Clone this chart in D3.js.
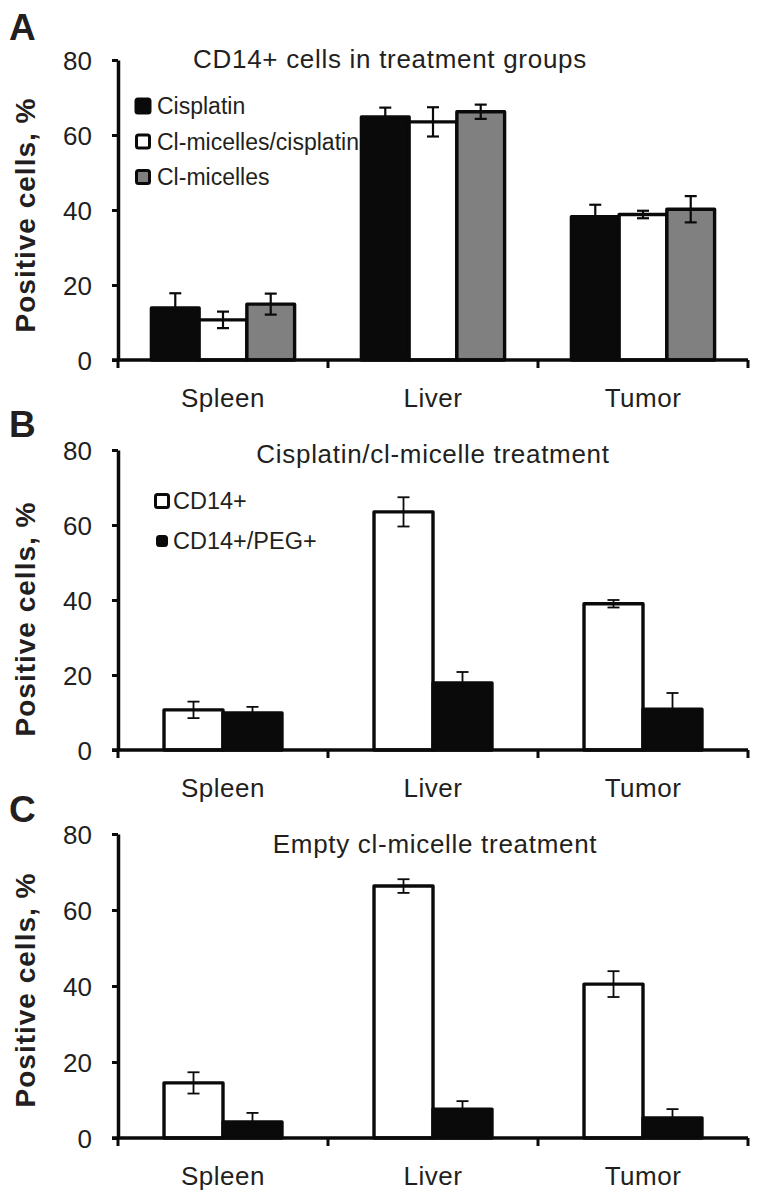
<!DOCTYPE html>
<html><head><meta charset="utf-8">
<script src="https://cdn.jsdelivr.net/npm/d3@7"></script>
<style>
body{margin:0;background:#fff}
text{font-family:"Liberation Sans",Arial,Helvetica,sans-serif;fill:#231f20}
</style>
</head><body>
<svg id="chart" width="760" height="1201"></svg>
<script>
// ---------- data ----------
const categories = ["Spleen", "Liver", "Tumor"];
const yTickValues = [0, 20, 40, 60, 80];
const panelLetters = ["A", "B", "C"];
const panelTitles = ["CD14+ cells in treatment groups", "Cisplatin/cl-micelle treatment", "Empty cl-micelle treatment"];
const yAxisTitle = "Positive cells, %";

// Panel A
const seriesA = ["Cisplatin", "Cl-micelles/cisplatin", "Cl-micelles"];
const cisplatinA = [13.9, 64.8, 38.2];
const cisplatinErrA = [3.9, 2.5, 3.2];
const clMicCisA = [10.7, 63.5, 38.8];
const clMicCisErrA = [2.2, 3.9, 1.0];
const clMicA = [14.9, 66.2, 40.2];
const clMicErrA = [2.8, 1.9, 3.5];

// Panel B (cisplatin/cl-micelle)
const seriesBC = ["CD14+", "CD14+/PEG+"];
const cd14B = [10.7, 63.5, 39.0];
const cd14ErrB = [2.2, 3.9, 1.0];
const pegB = [9.9, 17.9, 10.9];
const pegErrB = [1.6, 2.9, 4.3];

// Panel C (empty cl-micelle)
const cd14C = [14.5, 66.3, 40.5];
const cd14ErrC = [2.8, 1.8, 3.4];
const pegC = [4.2, 7.6, 5.3];
const pegErrC = [2.4, 2.1, 2.3];

// ---------- layout ----------
const svg = d3.select("#chart");
const INK = "#0a0a0a";
const axisLeftX = 118, axisRightX = 748;

const panels = [
  { letter: panelLetters[0], title: panelTitles[0], top: 60, bottom: 360, titleY: 68, titleX: 390, letterY: 40, yTitleC: 215,
    series: seriesA, fills: [INK, "#ffffff", "#808080"],
    values: [cisplatinA, clMicCisA, clMicA], errs: [cisplatinErrA, clMicCisErrA, clMicErrA],
    padOuter: 0.7, errW: 2.2,
    legend: { x: 135, y0: 98, step: 35.5, sizes: [17, 16, 16], textX: 157, fs: 23 } },
  { letter: panelLetters[1], title: panelTitles[1], top: 450, bottom: 750, titleY: 463, titleX: 433, letterY: 437, yTitleC: 619,
    series: seriesBC, fills: ["#ffffff", INK],
    values: [cd14B, pegB], errs: [cd14ErrB, pegErrB],
    padOuter: 0.78, errW: 1.8,
    legend: { x: 154, y0: 493, step: 40, sizes: [16, 12], textX: 173, fs: 23.5 } },
  { letter: panelLetters[2], title: panelTitles[2], top: 834, bottom: 1138, titleY: 853, titleX: 435, letterY: 822, yTitleC: 990,
    series: seriesBC, fills: ["#ffffff", INK],
    values: [cd14C, pegC], errs: [cd14ErrC, pegErrC],
    padOuter: 0.78, errW: 1.8, legend: null }
];

panels.forEach(p => {
  const g = svg.append("g");
  const x = d3.scaleBand().domain(categories).range([axisLeftX, axisRightX]).paddingInner(0).paddingOuter(0);
  const xs = d3.scaleBand().domain(p.series).range([0, x.bandwidth()]).paddingInner(0).paddingOuter(p.padOuter);
  const y = d3.scaleLinear().domain([0, 80]).range([p.bottom, p.top]);

  // panel letter
  g.append("text").attr("x", 9).attr("y", p.letterY)
    .style("font-size", "37px").style("font-weight", "bold").text(p.letter);

  // title
  g.append("text").attr("x", p.titleX).attr("y", p.titleY).attr("text-anchor", "middle")
    .style("font-size", "26px").style("letter-spacing", "0.7px").text(p.title);

  // y axis title
  g.append("text").attr("transform", `translate(35,${p.yTitleC}) rotate(-90)`)
    .attr("text-anchor", "middle").style("font-size", "28px").style("font-weight", "bold")
    .style("letter-spacing", "1px").text(yAxisTitle);

  // bars
  p.series.forEach((s, si) => {
    const data = categories.map((c, i) => ({ c, v: p.values[si][i], e: p.errs[si][i] }));
    g.append("g").selectAll("rect").data(data).join("rect")
      .attr("x", d => x(d.c) + xs(s))
      .attr("y", d => y(d.v))
      .attr("width", xs.bandwidth())
      .attr("height", d => y(0) - y(d.v))
      .attr("fill", p.fills[si])
      .attr("stroke", INK).attr("stroke-width", 3.4).attr("stroke-linejoin", "round");
  });
  // error bars (drawn over all bars)
  p.series.forEach((s, si) => {
    const data = categories.map((c, i) => ({ c, v: p.values[si][i], e: p.errs[si][i] }));
    const eg = g.append("g").attr("stroke", INK).attr("stroke-width", p.errW).attr("fill", "none");
    data.forEach(d => {
      const cx = x(d.c) + xs(s) + xs.bandwidth() / 2;
      eg.append("line").attr("x1", cx).attr("x2", cx).attr("y1", y(d.v + d.e)).attr("y2", y(d.v - d.e));
      eg.append("line").attr("x1", cx - 6).attr("x2", cx + 6).attr("y1", y(d.v + d.e)).attr("y2", y(d.v + d.e));
      eg.append("line").attr("x1", cx - 6).attr("x2", cx + 6).attr("y1", y(d.v - d.e)).attr("y2", y(d.v - d.e));
    });
  });

  // y axis
  const ya = g.append("g").attr("transform", `translate(${axisLeftX},0)`)
    .call(d3.axisLeft(y).tickValues(yTickValues).tickSize(6).tickSizeOuter(0).tickPadding(20));
  ya.attr("font-family", null).attr("font-size", null);
  ya.select(".domain").attr("stroke", INK).attr("stroke-width", 3.5);
  ya.selectAll(".tick line").attr("stroke", INK).attr("stroke-width", 3);
  ya.selectAll(".tick text").style("font-size", "26px")
    .attr("fill", "#231f20").attr("dy", "0.36em");

  // x axis
  const xa = g.append("g").attr("transform", `translate(0,${p.bottom})`)
    .call(d3.axisBottom(x).tickSize(0).tickPadding(29));
  xa.attr("font-family", null).attr("font-size", null);
  xa.select(".domain").remove();
  xa.selectAll(".tick text").style("font-size", "26px").style("letter-spacing", "0.5px")
    .attr("fill", "#231f20").attr("dy", "0.71em");
  g.append("line").attr("x1", axisLeftX - 6).attr("x2", axisRightX).attr("y1", p.bottom).attr("y2", p.bottom)
    .attr("stroke", INK).attr("stroke-width", 3.5);
  const bounds = categories.map(c => x(c)).concat([x.range()[1]]);
  g.append("g").selectAll("line").data(bounds).join("line")
    .attr("x1", d => d).attr("x2", d => d).attr("y1", p.bottom).attr("y2", p.bottom + 8)
    .attr("stroke", INK).attr("stroke-width", 3);

  // legend
  if (p.legend) {
    const L = p.legend;
    p.series.forEach((s, si) => {
      const sz = L.sizes[si];
      const yy = L.y0 + si * L.step;
      const off = (16 - sz) / 2;
      g.append("rect").attr("x", L.x + off + 1.5).attr("y", yy + off + 1.5)
        .attr("width", sz - 3).attr("height", sz - 3).attr("rx", 2)
        .attr("fill", p.fills[si]).attr("stroke", INK).attr("stroke-width", 3);
      g.append("text").attr("x", L.textX).attr("y", yy + 16).style("font-size", L.fs + "px").text(s);
    });
  }
});
</script>
</body></html>
